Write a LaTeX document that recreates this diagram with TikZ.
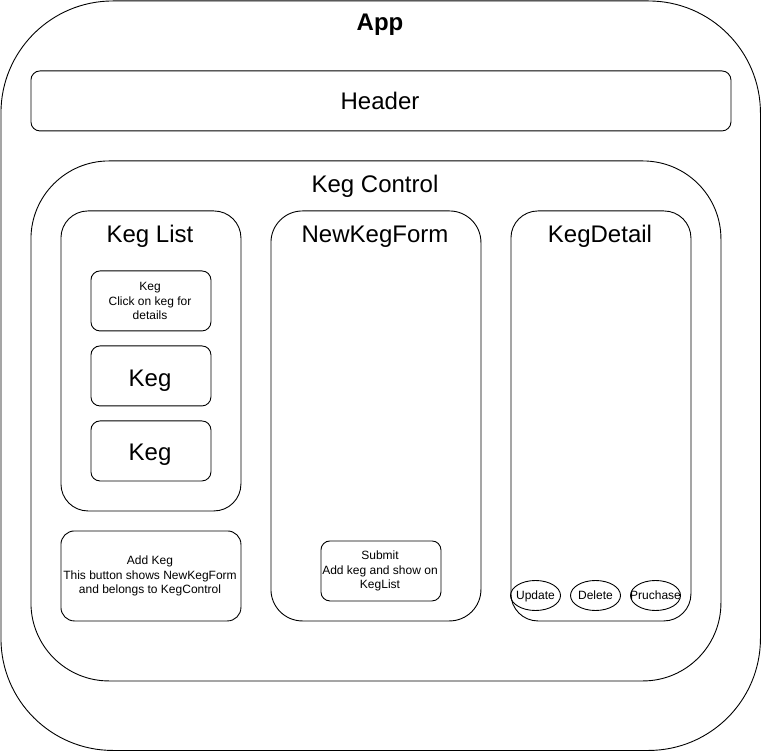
\documentclass[tikz,border=0pt]{standalone}
\usepackage{fontspec}
\setmainfont{Liberation Sans}
\usetikzlibrary{shapes.geometric}
\begin{document}
\begin{tikzpicture}[x=1pt,y=-1pt,line width=0.9pt,
  box/.style={draw=black,rectangle,inner sep=0pt,anchor=north west},
  big/.style={font=\fontsize{24}{28}\selectfont,inner sep=0pt,text height=17.2pt,text depth=0pt},
  small/.style={font=\fontsize{12}{14.5}\selectfont,align=center,inner sep=0pt},
  lbl/.style={font=\fontsize{12}{14.5}\selectfont,inner sep=0pt,text height=8.6pt,text depth=0pt},
  btn/.style={draw=black,ellipse,minimum width=50pt,minimum height=30pt,inner sep=0pt}]
\useasboundingbox (0,0) rectangle (761,751);
\fill[white] (0,0) rectangle (761,751);
% containers
\node[box,minimum width=759.5pt,minimum height=749.5pt,rounded corners=112pt] (app) at (0.5,0.5) {};
\node[font=\fontsize{24}{28}\selectfont\bfseries,inner sep=0pt,text height=17.2pt,text depth=0pt] (apptitle) at (380,22) {App};
\node[box,minimum width=700pt,minimum height=60pt,rounded corners=9pt] (header) at (30.5,70.5) {};
\node[big] (headertxt) at (380,101) {Header};
\node[box,minimum width=690pt,minimum height=520pt,rounded corners=78pt] (kc) at (30.5,160.5) {};
\node[big] (kctxt) at (375,183.5) {Keg Control};
% Keg List
\node[box,minimum width=180pt,minimum height=300pt,rounded corners=27pt] (kl) at (60.5,210.5) {};
\node[big] (kltxt) at (150,233.5) {Keg List};
\node[box,minimum width=120pt,minimum height=60pt,rounded corners=9pt] (keg1) at (90.5,270.5) {};
\node[small] (keg1txt) at (150,301) {Keg\\Click on keg for\\details};
\node[box,minimum width=120pt,minimum height=60pt,rounded corners=9pt] (keg2) at (90.5,345.5) {};
\node[big] (keg2txt) at (150,377.5) {Keg};
\node[box,minimum width=120pt,minimum height=60pt,rounded corners=9pt] (keg3) at (90.5,420.5) {};
\node[big] (keg3txt) at (150,452) {Keg};
\node[box,minimum width=180pt,minimum height=90pt,rounded corners=13.5pt] (add) at (60.5,530.5) {};
\node[small] (addtxt) at (150,576) {Add Keg\\This button shows NewKegForm\\and belongs to KegControl};
% NewKegForm
\node[box,minimum width=210pt,minimum height=410pt,rounded corners=31.5pt] (nkf) at (270.5,210.5) {};
\node[big] (nkftxt) at (375,233.5) {NewKegForm};
\node[box,minimum width=120pt,minimum height=60pt,rounded corners=9pt] (submit) at (320.5,540.5) {};
\node[small] (submittxt) at (380,571) {Submit\\Add keg and show on\\KegList};
% KegDetail
\node[box,minimum width=180pt,minimum height=410pt,rounded corners=27pt] (kd) at (510.5,210.5) {};
\node[big] (kdtxt) at (600,233.5) {KegDetail};
\node[btn,label={[lbl]center:Update}] (upd) at (535.5,595.5) {};
\node[btn,label={[lbl]center:Delete}] (del) at (595.5,595.5) {};
\node[btn,label={[lbl]center:Pruchase}] (pur) at (655.5,595.5) {};
\end{tikzpicture}
\end{document}
